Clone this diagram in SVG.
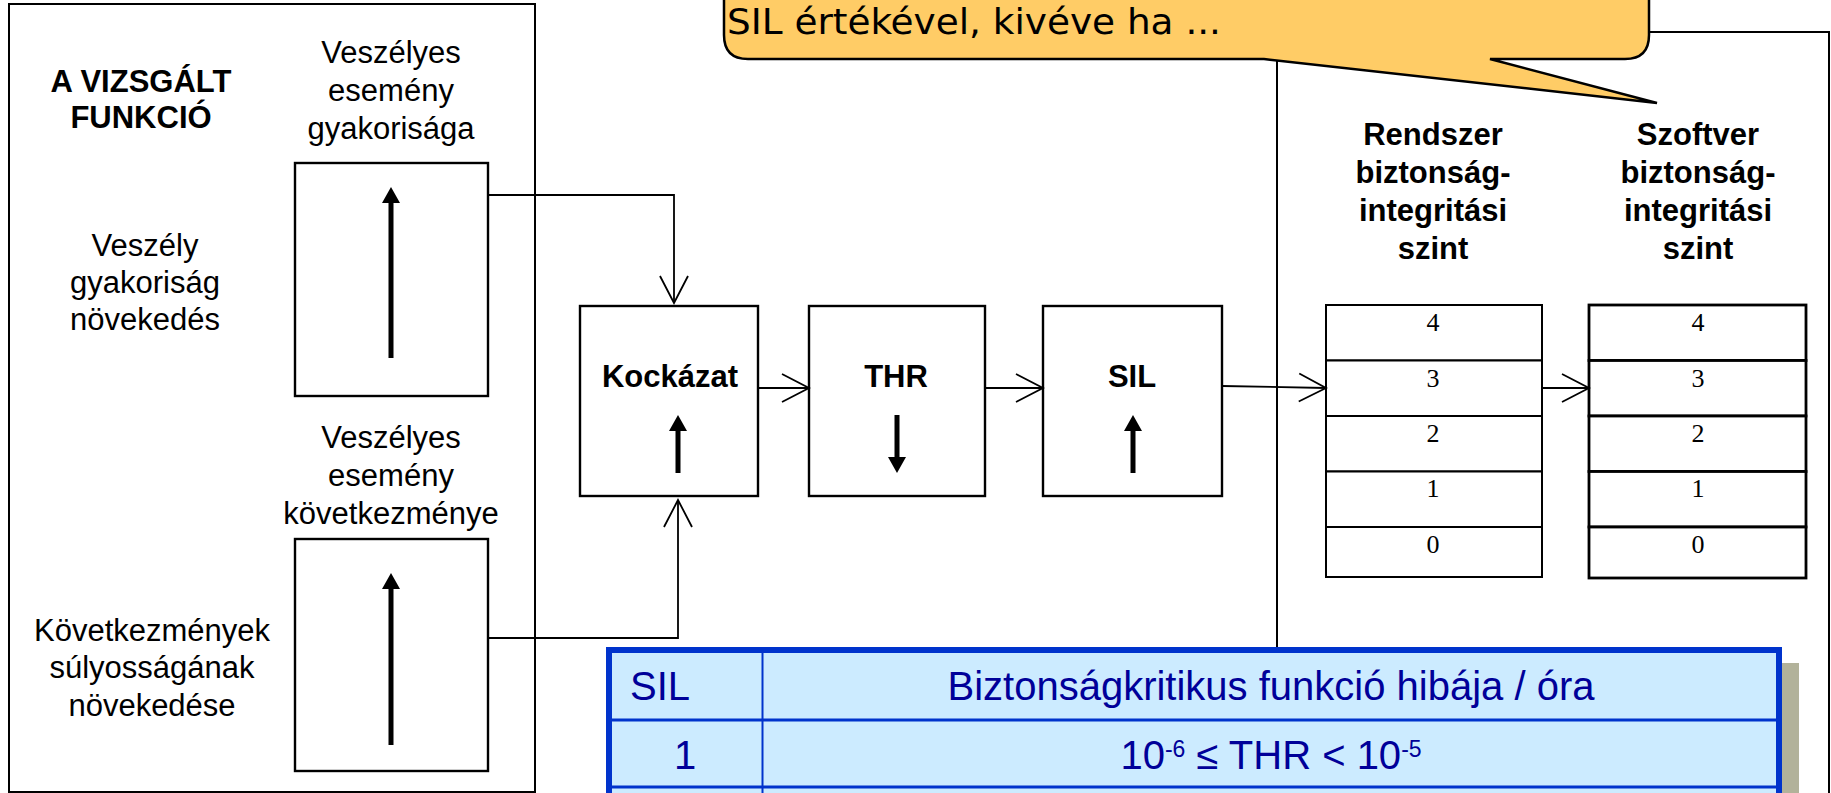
<svg xmlns="http://www.w3.org/2000/svg" width="1831" height="793" viewBox="0 0 1831 793">
<defs>
<style>
.frame{fill:none;stroke:#000;stroke-width:2}
.box{fill:#fff;stroke:#000;stroke-width:2.4}
.conn{fill:none;stroke:#000;stroke-width:1.8}
.barrow{stroke:#000;stroke-width:5;fill:none}
.t{font-family:"Liberation Sans",Arial,sans-serif;font-size:31px;fill:#000;text-anchor:middle}
.tb{font-family:"Liberation Sans",Arial,sans-serif;font-size:31px;font-weight:bold;fill:#000;text-anchor:middle}
.num{font-family:"Liberation Serif","Times New Roman",serif;font-size:26px;fill:#000;text-anchor:middle}
.lvl{fill:#fff;stroke:#000;stroke-width:2}
.lvl2{fill:#fff;stroke:#000;stroke-width:2.8}
.tbl{font-family:"Liberation Sans",Arial,sans-serif;font-size:40px;fill:#000099}
.sup{font-size:23px}
.tline{stroke:#0033CC;fill:none}
</style>
<marker id="open" markerUnits="userSpaceOnUse" markerWidth="32" markerHeight="32" refX="28" refY="15" orient="auto" overflow="visible">
<path d="M1,1 L28,15 L1,29" fill="none" stroke="#000" stroke-width="1.8"/>
</marker>
<marker id="solid" markerUnits="userSpaceOnUse" markerWidth="18" markerHeight="18" refX="2" refY="9" orient="auto">
<path d="M0,0 L16,9 L0,18 z" fill="#000"/>
</marker>
</defs>
<rect width="1831" height="793" fill="#fff"/>

<g id="right-frame">
<rect class="frame" x="1277" y="32" width="552" height="780"/>
</g>

<g id="func-frame">
<rect class="frame" x="9" y="4" width="526" height="788"/>
<text class="tb" x="141" y="92">A VIZSGÁLT</text>
<text class="tb" x="141" y="128">FUNKCIÓ</text>
<text class="t" x="145" y="256">Veszély</text>
<text class="t" x="145" y="293">gyakoriság</text>
<text class="t" x="145" y="330">növekedés</text>
<text class="t" x="152" y="641">Következmények</text>
<text class="t" x="152" y="678">súlyosságának</text>
<text class="t" x="152" y="716">növekedése</text>
</g>

<g id="freq-box">
<text class="t" x="391" y="63">Veszélyes</text>
<text class="t" x="391" y="101">esemény</text>
<text class="t" x="391" y="139">gyakorisága</text>
<rect class="box" x="295" y="163" width="193" height="233"/>
<line class="barrow" x1="391" y1="358" x2="391" y2="201" marker-end="url(#solid)"/>
</g>

<g id="cons-box">
<text class="t" x="391" y="448">Veszélyes</text>
<text class="t" x="391" y="486">esemény</text>
<text class="t" x="391" y="524">következménye</text>
<rect class="box" x="295" y="539" width="193" height="232"/>
<line class="barrow" x1="391" y1="745" x2="391" y2="587" marker-end="url(#solid)"/>
</g>

<g id="kockazat">
<rect class="box" x="580" y="306" width="178" height="190"/>
<text class="tb" x="670" y="387">Kockázat</text>
<line class="barrow" x1="678" y1="473" x2="678" y2="429" marker-end="url(#solid)"/>
</g>

<g id="thr">
<rect class="box" x="809" y="306" width="176" height="190"/>
<text class="tb" x="896" y="387">THR</text>
<line class="barrow" x1="897" y1="415" x2="897" y2="459" marker-end="url(#solid)"/>
</g>

<g id="sil">
<rect class="box" x="1043" y="306" width="179" height="190"/>
<text class="tb" x="1132" y="387">SIL</text>
<line class="barrow" x1="1133" y1="473" x2="1133" y2="429" marker-end="url(#solid)"/>
</g>

<g id="rendszer">
<text class="tb" x="1433" y="145">Rendszer</text>
<text class="tb" x="1433" y="183">biztonság-</text>
<text class="tb" x="1433" y="221">integritási</text>
<text class="tb" x="1433" y="259">szint</text>
<rect class="lvl" x="1326" y="305" width="216" height="55.5"/>
<rect class="lvl" x="1326" y="360.5" width="216" height="55.5"/>
<rect class="lvl" x="1326" y="416" width="216" height="55.5"/>
<rect class="lvl" x="1326" y="471.5" width="216" height="55.5"/>
<rect class="lvl" x="1326" y="527" width="216" height="50"/>
<text class="num" x="1433" y="331">4</text>
<text class="num" x="1433" y="387">3</text>
<text class="num" x="1433" y="442">2</text>
<text class="num" x="1433" y="497">1</text>
<text class="num" x="1433" y="553">0</text>
</g>

<g id="szoftver">
<text class="tb" x="1698" y="145">Szoftver</text>
<text class="tb" x="1698" y="183">biztonság-</text>
<text class="tb" x="1698" y="221">integritási</text>
<text class="tb" x="1698" y="259">szint</text>
<rect class="lvl2" x="1589" y="305" width="217" height="55.5"/>
<rect class="lvl2" x="1589" y="360.5" width="217" height="55.5"/>
<rect class="lvl2" x="1589" y="416" width="217" height="55.5"/>
<rect class="lvl2" x="1589" y="471.5" width="217" height="55.5"/>
<rect class="lvl2" x="1589" y="527" width="217" height="51"/>
<text class="num" x="1698" y="331">4</text>
<text class="num" x="1698" y="387">3</text>
<text class="num" x="1698" y="442">2</text>
<text class="num" x="1698" y="497">1</text>
<text class="num" x="1698" y="553">0</text>
</g>

<g id="connectors">
<path class="conn" d="M488,195 H674 V303" marker-end="url(#open)"/>
<path class="conn" d="M488,638 H678 V500" marker-end="url(#open)"/>
<path class="conn" d="M758,388 H809" marker-end="url(#open)"/>
<path class="conn" d="M985,388 H1043" marker-end="url(#open)"/>
<path class="conn" d="M1222,386 L1326,388" marker-end="url(#open)"/>
<path class="conn" d="M1542,388 H1589" marker-end="url(#open)"/>
</g>

<g id="callout">
<path d="M724,-30 V35 Q724,59 748,59 H1264 L1657,103 L1490,59 H1625 Q1649,59 1649,35 V-30 Z" fill="#FFCC66" stroke="#000" stroke-width="2.5" stroke-linejoin="miter"/>
<text x="727" y="34" font-family="'DejaVu Sans Condensed','DejaVu Sans',sans-serif" font-size="36" fill="#000" textLength="494" lengthAdjust="spacingAndGlyphs">SIL értékével, kivéve ha ...</text>
</g>

<g id="sil-table">
<rect x="623" y="663" width="1176" height="200" fill="#B2B29A"/>
<rect x="609" y="650" width="1170" height="200" fill="#CCEBFF" stroke="#0033CC" stroke-width="6"/>
<line class="tline" x1="609" y1="720" x2="1779" y2="720" stroke-width="3"/>
<line class="tline" x1="609" y1="787" x2="1779" y2="787" stroke-width="3"/>
<line class="tline" x1="762.5" y1="650" x2="762.5" y2="800" stroke-width="2"/>
<text class="tbl" x="630" y="700">SIL</text>
<text class="tbl" x="1271" y="700" text-anchor="middle">Biztonságkritikus funkció hibája / óra</text>
<text class="tbl" x="685" y="769" text-anchor="middle">1</text>
<text class="tbl" x="1271" y="769" text-anchor="middle">10<tspan class="sup" dy="-12">-6</tspan><tspan dy="12"> ≤ THR &lt; 10</tspan><tspan class="sup" dy="-12">-5</tspan></text>
</g>
</svg>
